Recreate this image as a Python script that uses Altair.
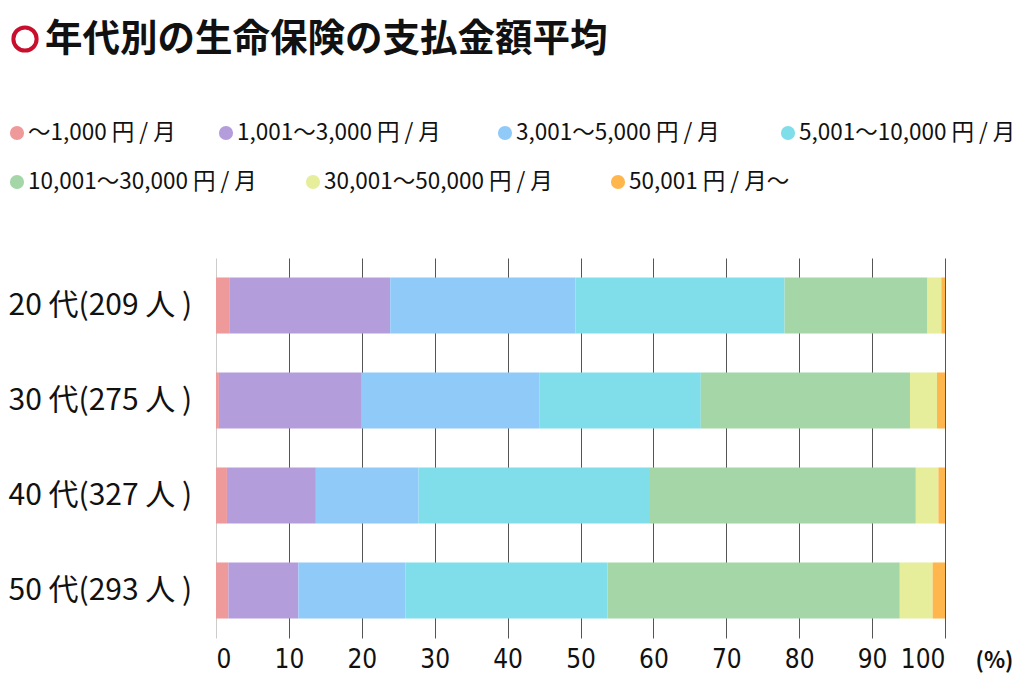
import altair as alt
import pandas as pd

ages = ["20 代(209 人 )", "30 代(275 人 )", "40 代(327 人 )", "50 代(293 人 )"]
brackets = [
    "〜1,000 円 / 月",
    "1,001〜3,000 円 / 月",
    "3,001〜5,000 円 / 月",
    "5,001〜10,000 円 / 月",
    "10,001〜30,000 円 / 月",
    "30,001〜50,000 円 / 月",
    "50,001 円 / 月〜",
]
colors = ["#EF9A9A", "#B39DDB", "#90CAF9", "#80DEEA", "#A5D6A7", "#E6EE9C", "#FFB74D"]

# share (%) per bracket, in order of ages
v_0_1000 = [1.9, 0.4, 1.5, 1.7]
v_1001_3000 = [22.0, 19.6, 12.2, 9.6]
v_3001_5000 = [25.4, 24.4, 14.1, 14.7]
v_5001_10000 = [28.7, 22.1, 31.6, 27.7]
v_10001_30000 = [19.6, 28.7, 36.6, 40.1]
v_30001_50000 = [1.9, 3.7, 3.1, 4.5]
v_50001_up = [0.5, 1.1, 0.9, 1.7]

series = [v_0_1000, v_1001_3000, v_3001_5000, v_5001_10000,
          v_10001_30000, v_30001_50000, v_50001_up]

title_text = "年代別の生命保険の支払金額平均"
x_ticks = [0, 10, 20, 30, 40, 50, 60, 70, 80, 90, 100]

# legend layout (pixel offsets relative to the plot area's left/top)
legend_sym_x = [-199, 10, 289, 572, -199, 97, 402]
legend_row_y = [-125, -125, -125, -125, -76, -76, -76]

rows = []
for bi, (b, vals) in enumerate(zip(brackets, series)):
    for a, v in zip(ages, vals):
        rows.append({"age": a, "bracket": b, "idx": bi, "value": v})
df = pd.DataFrame(rows)

leg = pd.DataFrame({"label": brackets, "col": colors,
                    "sx": legend_sym_x, "sy": legend_row_y})
leg["tx"] = leg["sx"] + 11

JP = "Noto Sans CJK JP"

bars = alt.Chart(df).mark_bar(strokeWidth=0).encode(
    x=alt.X("value:Q", stack="zero",
            scale=alt.Scale(domain=[0, 100], nice=False),
            axis=alt.Axis(values=x_ticks, title="(%)", grid=True,
                          gridColor=alt.condition("datum.value === 0", alt.value("#cccccc"), alt.value("#555555")),
                          gridWidth=1, ticks=False, domain=False,
                          labelFont="'DejaVu Sans Condensed', 'DejaVu Sans', sans-serif",
                          labelFontSize=26,
                          labelColor="#111111", labelPadding=8,
                          titleFont=JP, titleFontSize=22, titleFontWeight="bold",
                          titleColor="#111111", titleX=778, titleY=22,
                          titleAlign="center", titleBaseline="middle")),
    y=alt.Y("age:N", sort=ages,
            scale=alt.Scale(paddingInner=0.41, paddingOuter=0.205),
            axis=alt.Axis(title=None, ticks=False, domain=False, grid=False,
                          labelAlign="left", labelPadding=208, labelLimit=300,
                          labelFont=JP, labelFontSize=30, labelColor="#111111")),
    color=alt.Color("bracket:N", sort=brackets,
                    scale=alt.Scale(domain=brackets, range=colors),
                    legend=None),
    order=alt.Order("idx:Q", sort="ascending"),
)

leg_sym = alt.Chart(leg).mark_point(shape="circle", filled=True, opacity=1, size=200).encode(
    x=alt.X("sx:Q", scale=None, axis=None),
    y=alt.Y("sy:Q", scale=None, axis=None),
    color=alt.Color("col:N", scale=None, legend=None),
)
leg_txt = alt.Chart(leg).mark_text(align="left", baseline="middle", font=JP,
                                   fontSize=22.5, color="#111111").encode(
    x=alt.X("tx:Q", scale=None, axis=None),
    y=alt.Y("sy:Q", scale=None, axis=None),
    text="label:N",
)

ring = alt.Chart(pd.DataFrame({"k": [0]})).mark_point(
    shape="circle", filled=False, stroke="#C8102E", strokeWidth=4, size=540, opacity=1
).encode(x=alt.value(-191), y=alt.value(-219))

title = alt.Chart(pd.DataFrame({"t": [title_text]})).mark_text(
    align="left", baseline="middle", font=JP, fontSize=37.5, fontWeight="bold", color="#111111"
).encode(x=alt.value(-171), y=alt.value(-218), text="t:N")

chart = alt.layer(bars, leg_sym, leg_txt, ring, title).resolve_scale(
    x="independent", y="independent", color="independent"
).properties(
    width=729, height=380,
    autosize=alt.AutoSizeParams(type="none"),
    padding={"left": 208, "top": 250, "right": 71, "bottom": 36},
).configure_view(stroke=None)

chart.save("out.html", embed_options={"renderer": "svg", "actions": False})
